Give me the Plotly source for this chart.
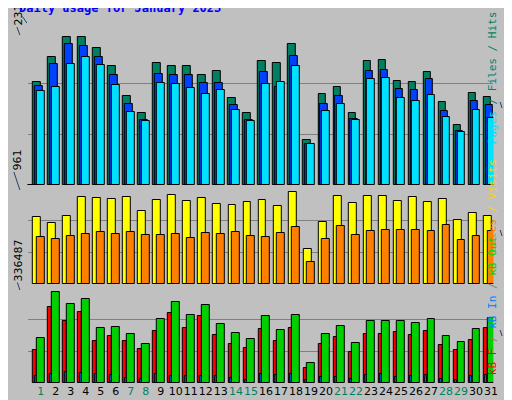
import plotly.graph_objects as go
from plotly.subplots import make_subplots

days = list(range(1, 32))
weekend = [1, 7, 8, 14, 15, 21, 22, 28, 29]

hits = [16050, 19960, 23090, 23139, 21370, 18550, 13860, 11210, 19020, 18550, 18550, 17150, 17770, 13550, 11210, 19330,
        19020, 21990, 6990, 14180, 15270, 11210, 19330, 19490, 16210, 16050, 17620, 12930, 9330, 14330, 13710]
files = [15430, 18870, 21990, 21680, 19960, 17150, 12610, 10110, 17300, 17150, 17150, 15900, 15900, 12460, 10110, 17620,
         15270, 20120, 6360, 12610, 13860, 10270, 17770, 17930, 14960, 14800, 16520, 11520, 8390, 13080, 12460]
pages = [14650, 15270, 18870, 19960, 18710, 15580, 11360, 9960, 15900, 15740, 15110, 14180, 14800, 11680, 9960, 15740,
         16050, 18550, 6360, 11520, 12610, 10110, 16520, 16680, 13550, 13080, 14020, 10580, 8240, 11680, 10430]
visits = [700, 637, 711, 909, 899, 888, 909, 763, 878, 930, 867, 899, 836, 825, 857, 878,
          815, 961, 366, 648, 920, 846, 920, 920, 867, 909, 857, 888, 669, 742, 711]
sites = [491, 470, 502, 522, 543, 522, 543, 512, 512, 522, 481, 533, 522, 543, 502, 491,
         533, 596, 230, 470, 606, 512, 554, 564, 564, 564, 554, 616, 460, 502, 554]
kb_f = [122000, 281000, 229300, 262500, 155300, 173800, 155300, 125700, 192300, 258800, 203400, 247800, 177500, 144200,
        129400, 199700, 155300, 203400, 55500, 144200, 170100, 114600, 181200, 181200, 188600, 177500, 192300, 140500,
        122000, 159000, 203400]
kb_in = [25900, 33300, 40700, 37000, 33300, 29600, 18500, 14800, 33300, 25900, 25900, 25900, 25900, 18500, 11100, 33300,
         29600, 33300, 11100, 22200, 22200, 14800, 29600, 33300, 22200, 25900, 29600, 14800, 11100, 25900, 29600]
kb_out = [166400, 336487, 292100, 310600, 203400, 207100, 181200, 144200, 236700, 299500, 251500, 288400, 218200, 184900,
          162700, 247800, 196000, 251500, 74000, 181200, 210800, 147900, 229300, 229300, 229300, 221900, 236700, 173800,
          151600, 199700, 240400]

fig = make_subplots(rows=3, cols=1, shared_xaxes=True, vertical_spacing=0)

def bars(vals, color, center, width, row):
    fig.add_trace(go.Bar(x=days, y=vals, marker=dict(color=color, line=dict(color="black", width=1)),
                         width=width, offset=center - width / 2), row=row, col=1)

bars(hits, "#008060", -0.26, 0.5, 1)
bars(files, "#0040FF", -0.13, 0.5, 1)
bars(pages, "#00E0FF", 0.0, 0.5, 1)
bars(visits, "#FFFF00", -0.24, 0.53, 2)
bars(sites, "#FF8000", 0.0, 0.5, 2)
bars(kb_f, "#FF0000", -0.37, 0.27, 3)
bars(kb_in, "#0080FF", -0.33, 0.12, 3)
bars(kb_out, "#00D000", 0.0, 0.5, 3)

# figure pixel -> paper fraction (no margins)
def py(p):
    return (400 - p) / 400

def px(p):
    return p / 512

ranges = [23139 * 152 / 148, 961 * 96 / 92, 336487 * 95 / 91]
domains = [[py(177), py(25)], [py(276), py(180)], [py(375), py(280)]]
for i in range(3):
    r = ranges[i]
    fig.update_yaxes(row=i + 1, col=1, range=[0, r], domain=domains[i], tickvals=[r / 3, 2 * r / 3],
                     showticklabels=False, gridcolor="#808080", gridwidth=1, zeroline=False, fixedrange=True)

ticktext = [f"<span style='color:{'#008060' if d in weekend else 'black'}'>{d}</span>" for d in days]
fig.update_xaxes(range=[0.14, 31.14], domain=[px(20), px(490)], showgrid=False, zeroline=False,
                 showticklabels=False)
fig.update_xaxes(row=3, col=1, showticklabels=True, tickvals=days, ticktext=ticktext, ticklen=0, tickangle=0,
                 tickfont=dict(family="DejaVu Sans", size=11))

shapes = [
    dict(type="rect", x0=px(505), y0=py(6), x1=px(512), y1=py(400), fillcolor="#808080", line_width=0),
    dict(type="rect", x0=px(6), y0=py(393), x1=px(512), y1=py(400), fillcolor="#808080", line_width=0),
    dict(type="rect", x0=px(0.5), y0=py(399.5), x1=px(511.5), y1=py(0.5), line=dict(color="black", width=1)),
]
for top, bot in [(25, 177), (180, 276), (280, 375)]:
    shapes.append(dict(type="rect", x0=px(20), y0=py(bot), x1=px(490), y1=py(top), line=dict(color="black", width=1)))
fig.update_layout(shapes=shapes)

ann = [
    dict(x=px(19), y=py(15), xref="paper", yref="paper", xanchor="left", yanchor="middle",
         text="<b>Daily usage for January 2023</b>", font=dict(family="DejaVu Sans Mono", size=12, color="#0000FF")),
]
labels = ["23139", "961", "336487"]
tops = [25, 180, 280]
for lab, t in zip(labels, tops):
    ann.append(dict(x=px(12), y=py(t + 2), xref="paper", yref="paper", xanchor="center", yanchor="top",
                    text=lab, textangle=-90, font=dict(family="DejaVu Sans", size=11, color="black")))
side = [
    ("<span style='color:#00E0FF'>Pages</span><span style='color:#008060'> / </span>"
     "<span style='color:#008080'>Files</span><span style='color:#008060'> / Hits</span>", 100),
    ("<span style='color:#FF8000'>Sites</span><span style='color:#FFD000'> / Visits</span>", 228),
    ("<span style='color:#FF0000'>kB F</span> / <span style='color:#0080FF'>kB In</span> / "
     "<span style='color:#00D000'>kB Out</span>", 328),
]
for txt, c in side:
    ann.append(dict(x=px(499), y=py(c), xref="paper", yref="paper", xanchor="center", yanchor="middle",
                    text=txt, textangle=-90, font=dict(family="DejaVu Sans Mono", size=11, color="#808080")))
fig.update_layout(annotations=ann)

fig.update_layout(width=512, height=400, margin=dict(l=0, r=0, t=0, b=0),
                  paper_bgcolor="#C0C0C0", plot_bgcolor="#C0C0C0", barmode="overlay",
                  showlegend=False, bargap=0)
fig.write_html("out.html", config={"displayModeBar": False})
